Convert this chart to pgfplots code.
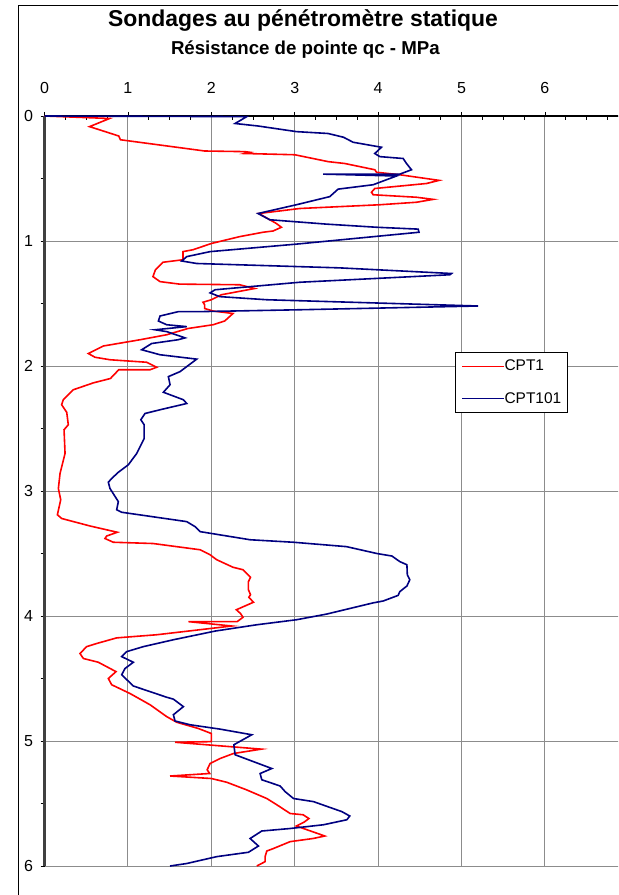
\documentclass[border=0pt]{standalone}
\usepackage{pgfplots}
\pgfplotsset{compat=1.18}
\usepackage{fontspec}
\setmainfont{Liberation Sans}
\definecolor{gridgray}{RGB}{140,140,140}
\definecolor{navyblue}{RGB}{0,0,128}
\definecolor{axisgray}{RGB}{64,64,64}
\begin{document}
\begin{tikzpicture}[x=1pt,y=1pt]
\useasboundingbox (0,0) rectangle (463.5,671.25);
\begin{scope}
\clip (0,0) rectangle (463.5,671.25);
\draw[black, line width=0.8pt] (13.7,-5) -- (13.7,667) -- (470,667);
\node[anchor=base, font=\bfseries\fontsize{17.2}{19}\selectfont] at (227.25,651) {Sondages au pénétromètre statique};
\node[anchor=base, font=\bfseries\fontsize{14}{16}\selectfont] at (229,630) {Résistance de pointe qc - MPa};
\begin{axis}[
  at={(33.4pt,21.75pt)}, anchor=south west,
  scale only axis, width=437.85pt, height=562.5pt,
  xmin=0, xmax=7, ymin=0, ymax=6, y dir=reverse,
  axis x line*=top, axis y line*=left,
  xtick={0,1,2,3,4,5,6,7}, xticklabels={0,1,2,3,4,5,6,{}},
  ytick={0,1,2,3,4,5,6},
  minor x tick num=3, minor y tick num=1,
  xtick pos=upper, xticklabel pos=upper,
  ytick pos=left, yticklabel pos=left,
  tick align=outside,
  major tick length=3pt, minor tick length=3pt,
  minor x tick style={yshift=-3pt},
  tick style={black, line width=0.6pt},
  grid=major, major grid style={gridgray, line width=0.7pt},
  x axis line style={black, line width=1.1pt},
  y axis line style={axisgray, line width=1.6pt},
  ticklabel style={font=\fontsize{12}{14}\selectfont},
  /pgf/number format/assume math mode=true,
  xticklabel style={anchor=center, yshift=18pt},
  yticklabel style={anchor=center, xshift=-9pt},
  clip=false,
  legend style={at={(axis cs:4.922,1.888)}, anchor=north west, draw=black, line width=0.75pt,
    font=\fontsize{11.6}{13}\selectfont, inner xsep=4.5pt, inner ysep=5.5pt,
    row sep=14.7pt, nodes={inner sep=0pt},
    /tikz/every even column/.append style={column sep=4.5pt}},
  legend cell align=left,
  legend image code/.code={\draw[#1, line width=0.75pt] (0pt,0pt) -- (31.5pt,0pt);},
]
\addplot[draw=red, line width=1.2pt] coordinates {
(0,0) (0.78,0.02) (0.54,0.085) (0.89,0.16) (0.91,0.19) (1.92,0.28) (2.40,0.285) (2.46,0.29) (2.40,0.30)
(3.00,0.31) (3.40,0.365) (3.60,0.38) (3.96,0.43) (3.98,0.45) (4.26,0.47) (4.73,0.515) (4.58,0.54)
(3.96,0.58) (3.92,0.61) (3.94,0.63) (4.46,0.65) (4.66,0.667) (4.46,0.69) (4.02,0.71) (3.06,0.74)
(2.57,0.78) (2.78,0.86) (2.84,0.89) (2.74,0.92) (2.62,0.93) (2.34,0.965) (2.00,1.02) (1.78,1.07)
(1.66,1.085) (1.66,1.15) (1.42,1.17) (1.33,1.23) (1.30,1.285) (1.385,1.325) (1.62,1.345) (2.34,1.35)
(2.52,1.38) (2.12,1.43) (2.00,1.47) (1.90,1.49) (1.92,1.51) (1.92,1.54) (2.02,1.56) (2.26,1.58)
(2.16,1.64) (2.02,1.67) (1.72,1.70) (1.465,1.75) (1.145,1.79) (0.705,1.84) (0.525,1.90) (0.605,1.93)
(0.785,1.95) (1.225,1.97) (1.345,2.01) (1.265,2.03) (0.89,2.03) (0.79,2.10) (0.585,2.135) (0.345,2.19)
(0.225,2.27) (0.205,2.31) (0.266,2.37) (0.285,2.47) (0.234,2.51) (0.246,2.70) (0.186,2.86) (0.166,2.98)
(0.194,3.07) (0.154,3.19) (0.206,3.22) (0.546,3.28) (0.873,3.33) (0.745,3.36) (0.725,3.38) (0.825,3.41)
(1.30,3.42) (1.865,3.47) (1.985,3.51) (2.065,3.55) (2.26,3.61) (2.38,3.63) (2.47,3.69) (2.445,3.725)
(2.445,3.79) (2.47,3.83) (2.45,3.85) (2.505,3.89) (2.30,3.95) (2.35,3.98) (2.38,4.01) (2.31,4.045)
(1.725,4.045) (2.245,4.08) (1.345,4.15) (0.865,4.175) (0.625,4.22) (0.505,4.245) (0.425,4.30) (0.466,4.34)
(0.645,4.37) (0.857,4.445) (0.765,4.50) (0.805,4.55) (1.025,4.62) (1.265,4.71) (1.465,4.805) (1.585,4.85)
(1.845,4.90) (2.0,4.94) (2.0,5.005) (1.565,5.01) (2.60,5.065) (2.265,5.10) (2.105,5.14) (1.985,5.18)
(1.95,5.23) (1.98,5.26) (1.505,5.28) (2.0,5.30) (2.185,5.33) (2.42,5.39) (2.665,5.46) (2.785,5.51)
(2.945,5.58) (3.10,5.59) (3.17,5.62) (3.11,5.65) (3.02,5.68) (3.36,5.76) (3.22,5.78) (2.945,5.805)
(2.745,5.86) (2.665,5.88) (2.645,5.925) (2.645,5.965) (2.545,6.0)
};
\addlegendentry{CPT1}
\addplot[draw=navyblue, line width=1.2pt] coordinates {
(0,0) (2.425,0.005) (2.285,0.06) (2.56,0.08) (3.02,0.125) (3.40,0.14) (3.585,0.17) (3.70,0.21)
(4.04,0.25) (3.96,0.30) (4.02,0.325) (4.30,0.34) (4.34,0.38) (4.40,0.43) (4.26,0.465) (3.34,0.465)
(4.22,0.48) (3.94,0.55) (3.52,0.585) (3.42,0.645) (3.02,0.71) (2.56,0.78) (2.70,0.83) (3.38,0.865)
(3.98,0.89) (4.48,0.905) (4.49,0.93) (3.02,1.025) (1.985,1.085) (1.705,1.125) (1.645,1.16) (1.825,1.18)
(3.54,1.215) (4.88,1.26) (4.86,1.27) (3.06,1.33) (2.045,1.39) (1.985,1.415) (2.1,1.445) (2.665,1.47)
(5.20,1.52) (3.06,1.55) (1.865,1.565) (1.605,1.565) (1.385,1.60) (1.365,1.64) (1.465,1.67) (1.705,1.685)
(1.325,1.71) (1.465,1.725) (1.685,1.775) (1.60,1.79) (1.285,1.82) (1.165,1.87) (1.385,1.91) (1.825,1.945)
(1.625,2.045) (1.485,2.085) (1.505,2.15) (1.425,2.21) (1.665,2.27) (1.705,2.30) (1.385,2.35) (1.205,2.38)
(1.155,2.43) (1.195,2.47) (1.195,2.58) (1.105,2.70) (1.005,2.79) (0.885,2.85) (0.805,2.90) (0.765,2.93)
(0.785,2.98) (0.885,3.085) (0.865,3.15) (0.925,3.17) (1.705,3.245) (1.805,3.285) (1.865,3.325) (2.465,3.39)
(2.985,3.41) (3.62,3.445) (3.985,3.50) (4.165,3.52) (4.26,3.565) (4.345,3.59) (4.35,3.67) (4.38,3.71)
(4.345,3.76) (4.26,3.805) (4.24,3.835) (4.06,3.88) (3.94,3.895) (3.66,3.94) (3.38,3.985) (3.02,4.03)
(2.545,4.07) (2.05,4.12) (1.545,4.19) (1.185,4.245) (0.985,4.285) (0.925,4.325) (1.065,4.37) (0.965,4.42)
(0.925,4.47) (1.065,4.56) (1.265,4.605) (1.465,4.65) (1.545,4.665) (1.665,4.725) (1.545,4.79) (1.565,4.84)
(1.745,4.87) (2.105,4.905) (2.485,4.95) (2.27,5.03) (2.285,5.11) (2.725,5.22) (2.585,5.26) (2.605,5.31)
(2.825,5.36) (2.885,5.405) (2.985,5.46) (3.225,5.485) (3.565,5.565) (3.66,5.60) (3.625,5.63) (3.345,5.67)
(2.945,5.70) (2.605,5.72) (2.465,5.78) (2.565,5.84) (2.445,5.89) (2.065,5.925) (1.705,5.98) (1.505,6.0)
};
\addlegendentry{CPT101}
\end{axis}
\end{scope}
\end{tikzpicture}
\end{document}
